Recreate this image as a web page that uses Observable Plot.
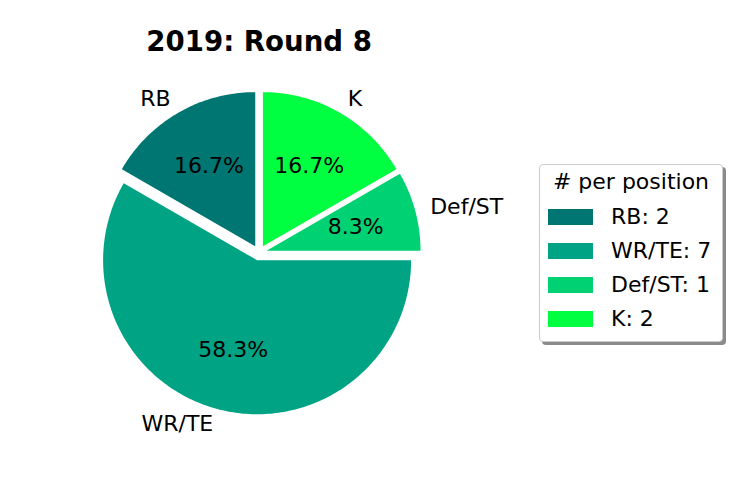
<!DOCTYPE html>
<html>
<head>
<meta charset="utf-8">
<script src="https://cdn.jsdelivr.net/npm/d3@7"></script>
<script src="https://cdn.jsdelivr.net/npm/@observablehq/plot@0.6"></script>
<style>
  html, body { margin: 0; padding: 0; background: #fff; }
  #wrap { position: relative; width: 746px; height: 500px; font-family: "DejaVu Sans", sans-serif; }
  #legend { position: absolute; left: 539px; top: 164px; width: 182px; height: 176px;
    border: 1px solid #cccccc; border-radius: 4px; background: #fff; box-shadow: 3px 3px 0 #8a8a8a; }
  #legend .t { position: absolute; left: 0; width: 100%; text-align: center; font-size: 22px; line-height: 1; }
  #legend .sw { position: absolute; left: 8px; width: 45px; height: 16px; }
  #legend .lb { position: absolute; left: 71px; font-size: 22px; line-height: 1; white-space: nowrap; }
</style>
</head>
<body>
<div id="wrap"></div>
<script>
const title = "2019: Round 8";
const positions = ["RB", "WR/TE", "Def/ST", "K"];
const counts = [2, 7, 1, 2];
const colors = ["#007672", "#00a383", "#00d173", "#00ff40"];
const explode = [0.05, 0.05, 0.05, 0.05];
const legendTitle = "# per position";

// layout (pixels)
const W = 746, H = 500, CX = 258.6, CY = 252.3, R = 154;
const FS = 22;

const total = d3.sum(counts);
const rad = (deg) => deg * Math.PI / 180;
let acc = 90;
const slices = positions.map((p, i) => {
  const a0 = acc, a1 = acc + 360 * counts[i] / total;
  acc = a1;
  const mid = (a0 + a1) / 2;
  const ox = explode[i] * Math.cos(rad(mid)), oy = explode[i] * Math.sin(rad(mid));
  return {p, v: counts[i], a0, a1, mid, ox, oy, ex: explode[i]};
});

// wedge outlines in unit coordinates
const pts = [];
for (const s of slices) {
  pts.push({key: s.p, x: s.ox, y: s.oy});
  const n = Math.max(2, Math.ceil(s.a1 - s.a0));
  for (let k = 0; k <= n; k++) {
    const a = rad(s.a0 + (s.a1 - s.a0) * k / n);
    pts.push({key: s.p, x: s.ox + Math.cos(a), y: s.oy + Math.sin(a)});
  }
}

const labels = slices.map(s => {
  const d = 1.1;
  return {text: s.p, x: s.ox + d * Math.cos(rad(s.mid)), y: s.oy + d * Math.sin(rad(s.mid))};
});
const pcts = slices.map(s => {
  const d = 0.6;
  return {text: (100 * s.v / total).toFixed(1) + "%", x: s.ox + d * Math.cos(rad(s.mid)), y: s.oy + d * Math.sin(rad(s.mid))};
});

const chart = Plot.plot({
  width: W, height: H,
  margin: 0,
  style: {fontFamily: "DejaVu Sans", background: "transparent"},
  x: {domain: [(0 - CX) / R, (W - CX) / R], axis: null},
  y: {domain: [(CY - H) / R, CY / R], axis: null},
  color: {domain: positions, range: colors},
  marks: [
    Plot.line(pts, {x: "x", y: "y", z: "key", fill: "key", stroke: "none", curve: "linear-closed"}),
    Plot.text(labels.filter(d => d.x < 0), {x: "x", y: "y", text: "text", textAnchor: "end", fontSize: FS, fill: "black"}),
    Plot.text(labels.filter(d => d.x >= 0), {x: "x", y: "y", text: "text", textAnchor: "start", fontSize: FS, fill: "black"}),
    Plot.text(pcts, {x: "x", y: "y", text: "text", fontSize: FS, fill: "black"}),
    Plot.text([title], {x: () => 0, text: d => d, frameAnchor: "top", lineAnchor: "middle", dy: 42, fontSize: 27.6, fontWeight: "bold", fill: "black"})
  ]
});

const wrap = document.getElementById("wrap");
wrap.appendChild(chart);

// legend
const leg = document.createElement("div");
leg.id = "legend";
const t = document.createElement("div");
t.className = "t"; t.textContent = legendTitle; t.style.top = (17 - FS * 0.5) + "px";
leg.appendChild(t);
positions.forEach((p, i) => {
  const cy = 52 + 34 * i;
  const sw = document.createElement("div");
  sw.className = "sw"; sw.style.top = (cy - 8) + "px"; sw.style.background = colors[i];
  leg.appendChild(sw);
  const lb = document.createElement("div");
  lb.className = "lb"; lb.style.top = (cy - FS * 0.5) + "px"; lb.textContent = p + ": " + counts[i];
  leg.appendChild(lb);
});
wrap.appendChild(leg);
</script>
</body>
</html>
